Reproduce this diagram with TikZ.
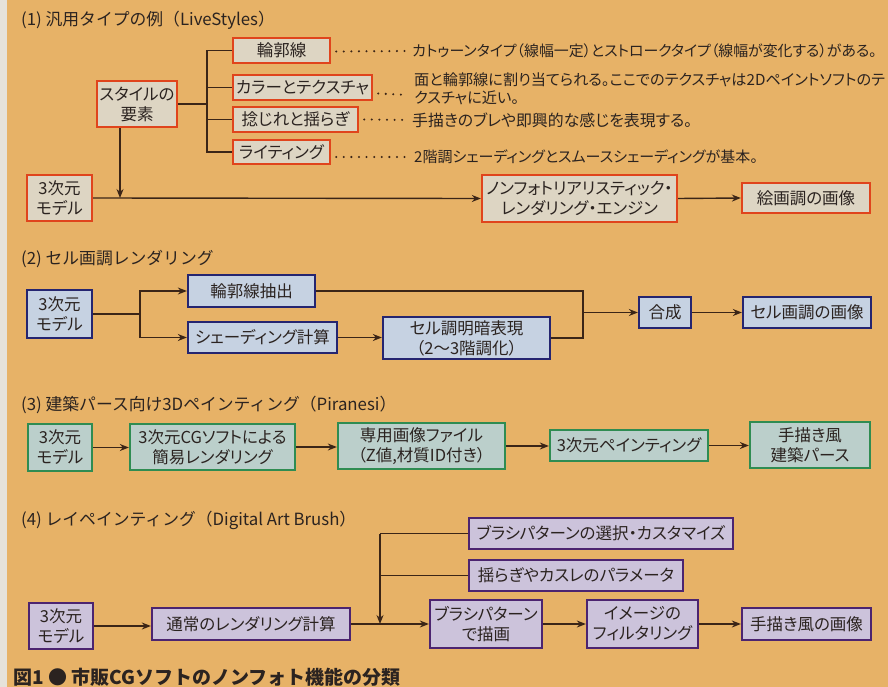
\documentclass[tikz,border=0pt]{standalone}
\usepackage{fontspec}
\setmainfont{Noto Sans CJK JP}[RawFeature={+palt}]
\newfontfamily\capfont{Noto Sans CJK JP}
\newfontfamily\ttlfont{Noto Sans CJK JP}
\usetikzlibrary{arrows.meta,calc}
\definecolor{bg}{HTML}{E7B267}
\definecolor{strip}{HTML}{E6E2DA}
\definecolor{ln}{HTML}{3B2517}
\definecolor{txt}{HTML}{2B2320}
\definecolor{fillA}{HTML}{DDD5C3}\definecolor{drawA}{HTML}{E0441C}
\definecolor{fillB}{HTML}{C6D2E2}\definecolor{drawB}{HTML}{252570}
\definecolor{fillC}{HTML}{BBCFCB}\definecolor{drawC}{HTML}{2F8C52}
\definecolor{fillD}{HTML}{CCC3DB}\definecolor{drawD}{HTML}{4C2470}
\tikzset{
  box/.style={draw, line width=2.3pt, inner sep=0pt, align=center, text=txt,
    font=\fontsize{16.5}{20}\selectfont},
  bA/.style={box, draw=drawA, fill=fillA},
  bB/.style={box, draw=drawB, fill=fillB},
  bC/.style={box, draw=drawC, fill=fillC},
  bD/.style={box, draw=drawD, fill=fillD},
  ttl/.style={anchor=west, inner sep=0pt, text=txt, font=\ttlfont\fontsize{16.8}{19}\selectfont},
  desc/.style={anchor=west, inner sep=0pt, align=left, text=txt},
  conn/.style={draw=ln, line width=1.4pt},
  arr/.style={conn, -{Stealth[length=9pt,width=7pt]}},
  dotln/.style={draw=ln, line width=2.3pt, line cap=round, dash pattern=on 0pt off 7.6pt},
}
\begin{document}
\begin{tikzpicture}[x=1pt,y=-1pt]
\useasboundingbox (0,0) rectangle (888,687);
\fill[bg] (0,0) rectangle (888,687);
\fill[strip] (0,0) rectangle (7,687);

% ---------- (1)
\node[ttl] (t1) at (21,20) {(1) 汎用タイプの例（LiveStyles）};
\node[bA, minimum width=65pt, minimum height=46pt] (s1model) at (59.5,198) {3次元\\モデル};
\node[bA, minimum width=80pt, minimum height=46pt] (s1style) at (137,104) {スタイルの\\要素};
\node[bA, minimum width=97pt, minimum height=25pt] (s1rin) at (281.5,50.5) {輪郭線};
\node[bA, minimum width=139pt, minimum height=25pt] (s1color) at (302.5,87.5) {カラーとテクスチャ};
\node[bA, minimum width=125pt, minimum height=25pt] (s1neji) at (295.5,119.5) {捻じれと揺らぎ};
\node[bA, minimum width=97pt, minimum height=24pt] (s1light) at (281.5,152) {ライティング};
\node[bA, minimum width=195pt, minimum height=47pt] (s1npr) at (579.5,198.5) {ノンフォトリアリスティック・\\レンダリング・エンジン};
\node[bA, minimum width=128pt, minimum height=30pt] (s1img) at (806,198) {絵画調の画像};

\node[desc, font=\fontsize{14.9}{17}\selectfont] (d1) at (412,51) {カトゥーンタイプ（線幅一定）とストロークタイプ（線幅が変化する）がある。};
\node[desc, font=\fontsize{15.2}{17.5}\selectfont] (d2) at (414,89) {面と輪郭線に割り当てられる。ここでのテクスチャは2Dペイントソフトのテ\\クスチャに近い。};
\node[desc, font=\fontsize{15.9}{17}\selectfont] (d3) at (412,120) {手描きのブレや即興的な感じを表現する。};
\node[desc, font=\fontsize{15}{17}\selectfont] (d4) at (414,157) {2階調シェーディングとスムースシェーディングが基本。};

\coordinate (j1) at (207,104);
\draw[conn] (s1style.east) -- (j1);
\draw[conn] (s1rin.west) -| (j1);
\draw[conn] (s1light.west) -| (j1);
\draw[conn] (s1color.west) -- (j1 |- s1color.west);
\draw[conn] (s1neji.west) -- (j1 |- s1neji.west);
\coordinate (v1) at ($(s1style.south)+(-17,0)$);
\draw[arr] (v1) -- (v1 |- s1model.east);
\draw[arr] (s1model.east) -- (s1npr.west);
\draw[arr] (s1npr.east) -- (s1img.west);

\draw[dotln] ($(s1rin.east)+(5,1)$) -- ($(d1.west)+(-5,0)$);
\draw[dotln] ($(s1color.east)+(5,6)$) -- ($(d2.west)+(-6,6)$);
\draw[dotln] ($(s1neji.east)+(5,0)$) -- ($(d3.west)+(-5,0)$);
\draw[dotln] ($(s1light.east |- d4.west)+(5,0)$) -- ($(d4.west)+(-6,0)$);

% ---------- (2)
\node[ttl] (t2) at (21,259) {(2) セル画調レンダリング};
\node[bB, minimum width=65pt, minimum height=48pt] (s2model) at (59.5,314) {3次元\\モデル};
\node[bB, minimum width=127pt, minimum height=32pt] (s2rin) at (251.5,291) {輪郭線抽出};
\node[bB, minimum width=149pt, minimum height=31pt] (s2shade) at (262.5,337.5) {シェーディング計算};
\node[bB, minimum width=167pt, minimum height=42pt] (s2cel) at (466.5,338) {セル調明暗表現\\（2〜3階調化）};
\node[bB, minimum width=52pt, minimum height=31pt] (s2gou) at (665,312.5) {合成};
\node[bB, minimum width=128pt, minimum height=31pt] (s2img) at (807,312.5) {セル画調の画像};
\coordinate (j2) at (140,314);
\coordinate (j2b) at (583,312.5);
\draw[conn] (s2model.east) -- (j2);
\draw[arr] (j2) |- (s2rin.west);
\draw[arr] (j2) |- (s2shade.west);
\draw[arr] (s2shade.east) -- (s2cel.west |- s2shade.east);
\draw[conn] (s2rin.east) -| (j2b);
\draw[conn] (s2cel.east) -| (j2b);
\draw[arr] (j2b) -- (s2gou.west);
\draw[arr] (s2gou.east) -- (s2img.west);

% ---------- (3)
\node[ttl] (t3) at (21,405) {(3) 建築パース向け3Dペインティング（Piranesi）};
\node[bC, minimum width=64pt, minimum height=47pt] (s3model) at (60,447.5) {3次元\\モデル};
\node[bC, minimum width=165pt, minimum height=46pt] (s3cg) at (212.5,447) {3次元CGソフトによる\\簡易レンダリング};
\node[bC, minimum width=167pt, minimum height=46pt] (s3file) at (421.5,446) {専用画像ファイル\\（Z値,材質ID付き）};
\node[bC, minimum width=158pt, minimum height=31pt] (s3paint) at (629,445.5) {3次元ペインティング};
\node[bC, minimum width=120pt, minimum height=46pt] (s3pers) at (810,445) {手描き風\\建築パース};
\draw[arr] (s3model.east) -- (s3cg.west |- s3model.east);
\draw[arr] (s3cg.east) -- (s3file.west |- s3cg.east);
\draw[arr] (s3file.east) -- (s3paint.west |- s3file.east);
\draw[arr] (s3paint.east) -- (s3pers.west |- s3paint.east);

% ---------- (4)
\node[ttl] (t4) at (21,520) {(4) レイペインティング（Digital Art Brush）};
\node[bD, minimum width=64pt, minimum height=46pt] (s4model) at (61,626) {3次元\\モデル};
\node[bD, minimum width=198pt, minimum height=32pt] (s4calc) at (251,624) {通常のレンダリング計算};
\node[bD, minimum width=112pt, minimum height=48pt] (s4brush) at (486,624) {ブラシパターン\\で描画};
\node[bD, minimum width=111pt, minimum height=48pt] (s4filt) at (642.5,624) {イメージの\\フィルタリング};
\node[bD, minimum width=129pt, minimum height=32pt] (s4img) at (806.5,624) {手描き風の画像};
\node[bD, minimum width=264pt, minimum height=31pt] (s4sel) at (601,533.5) {ブラシパターンの選択・カスタマイズ};
\node[bD, minimum width=214pt, minimum height=31pt] (s4yur) at (576,575.5) {揺らぎやカスレのパラメータ};
\coordinate (j4) at (380,533.5);
\draw[conn] (s4sel.west) -- (j4);
\draw[conn] (s4yur.west) -- (j4 |- s4yur.west);
\draw[arr] (j4) -- (j4 |- s4calc.east);
\draw[arr] (s4model.east) -- (s4calc.west |- s4model.east);
\draw[arr] (s4calc.east) -- (s4brush.west);
\draw[arr] (s4brush.east) -- (s4filt.west);
\draw[arr] (s4filt.east) -- (s4img.west);

% ---------- caption
\node[anchor=west, inner sep=0pt, text=txt, font=\capfont\bfseries\fontsize{19}{22}\selectfont] (cap) at (13,677) {図1 ● 市販CGソフトのノンフォト機能の分類};
\end{tikzpicture}
\end{document}
